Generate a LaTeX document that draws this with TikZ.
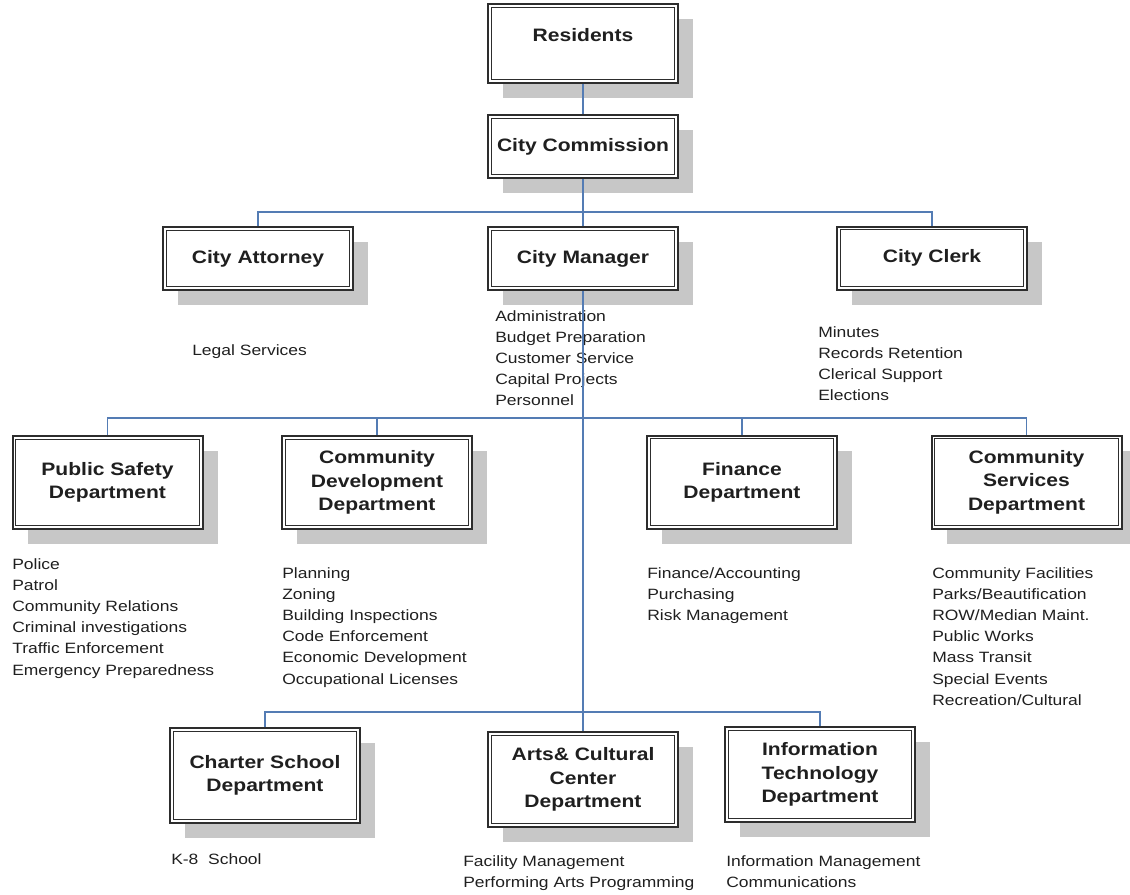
\documentclass[tikz,border=0pt]{standalone}
\usepackage{fontspec}
\setmainfont{Liberation Sans}[FakeStretch=1.17]
\usetikzlibrary{shadows}
\definecolor{linkblue}{RGB}{84,124,180}
\definecolor{boxline}{RGB}{45,45,45}

\begin{document}
\begin{tikzpicture}[
  x=0.75pt, y=-0.75pt,
  unit/.style={draw=boxline, line width=1.5pt, fill=white,
    minimum width=142.5pt, align=center, text=black!88,
    font=\fontsize{13.5}{17.5}\selectfont\bfseries,
    path picture={\draw[boxline, line width=0.55pt]
      ([shift={(2.4pt,2.4pt)}]path picture bounding box.south west) rectangle
      ([shift={(-2.4pt,-2.4pt)}]path picture bounding box.north east);},
    drop shadow={shadow xshift=11.5pt, shadow yshift=-11.5pt, fill=black!22, opacity=1}},
  duties/.style={anchor=north west, align=left, inner sep=0pt, text=black!88,
    font=\fontsize{11.2}{15.9}\selectfont},
  link/.style={draw=linkblue, line width=0.8pt}
]
\useasboundingbox (0,0) rectangle (1130,894);

% Top of the chart
\node[unit, minimum height=59.25pt, text height=10pt, text depth=13.2pt] (res) at (583,43.5) {Residents};
\node[unit, minimum height=47.25pt] (comm) at (583,146.5) {City Commission};
\node[unit, minimum height=47.25pt] (att) at (258,258.5) {City Attorney};
\node[unit, minimum height=47.25pt] (mgr) at (583,258.5) {City Manager};
\node[unit, minimum height=47.25pt] (clerk) at (932,258) {City Clerk};

% Departments
\node[unit, minimum height=69.75pt] (psd) at (107.5,482.5) {Public Safety\\Department};
\node[unit, minimum height=69.75pt] (cdd) at (377,482.5) {Community\\Development\\Department};
\node[unit, minimum height=69.75pt] (fin) at (742,482) {Finance\\Department};
\node[unit, minimum height=69.75pt] (csd) at (1026.5,482) {Community\\Services\\Department};
\node[unit, minimum height=71.25pt] (cs) at (265,775.5) {Charter School\\Department};
\node[unit, minimum height=71.25pt] (arts) at (583,779.5) {Arts\& Cultural\\Center\\Department};
\node[unit, minimum height=71.25pt] (it) at (820,774.5) {Information\\Technology\\Department};

% What each office does
\node[duties] (attlist) at (192,344) {Legal Services};
\node[duties] (mgrlist) at (495,310) {Administration\\Budget Preparation\\Customer Service\\Capital Projects\\Personnel};
\node[duties] (clerklist) at (818,326) {Minutes\\Records Retention\\Clerical Support\\Elections};
\node[duties] (psdlist) at (12,558) {Police\\Patrol\\Community Relations\\Criminal investigations\\Traffic Enforcement\\Emergency Preparedness};
\node[duties] (cddlist) at (282,567) {Planning\\Zoning\\Building Inspections\\Code Enforcement\\Economic Development\\Occupational Licenses};
\node[duties] (finlist) at (647,567) {Finance/Accounting\\Purchasing\\Risk Management};
\node[duties] (csdlist) at (932,567) {Community Facilities\\Parks/Beautification\\ROW/Median Maint.\\Public Works\\Mass Transit\\Special Events\\Recreation/Cultural};
\node[duties] (cslist) at (171,853) {K-8\ \ School};
\node[duties] (artslist) at (463,855) {Facility Management\\Performing Arts Programming};
\node[duties] (itlist) at (726,855) {Information Management\\Communications};

% Connectors
\coordinate (bus1) at (583,212);
\coordinate (bus2) at (583,418);
\coordinate (bus3) at (583,712);
\draw[link] (res) -- (comm);
\draw[link] (comm) -- (mgr);
\draw[link] (att.north) -- (att.north |- bus1) -- (clerk.north |- bus1) -- (clerk.north);
\draw[link] (mgr) -- (arts);
\draw[link] (psd.north) -- (psd.north |- bus2) -- (csd.north |- bus2) -- (csd.north);
\foreach \d in {cdd,fin}
  \draw[link] (\d.north) -- (\d.north |- bus2);
\draw[link] (cs.north) -- (cs.north |- bus3) -- (it.north |- bus3) -- (it.north);

\end{tikzpicture}
\end{document}
